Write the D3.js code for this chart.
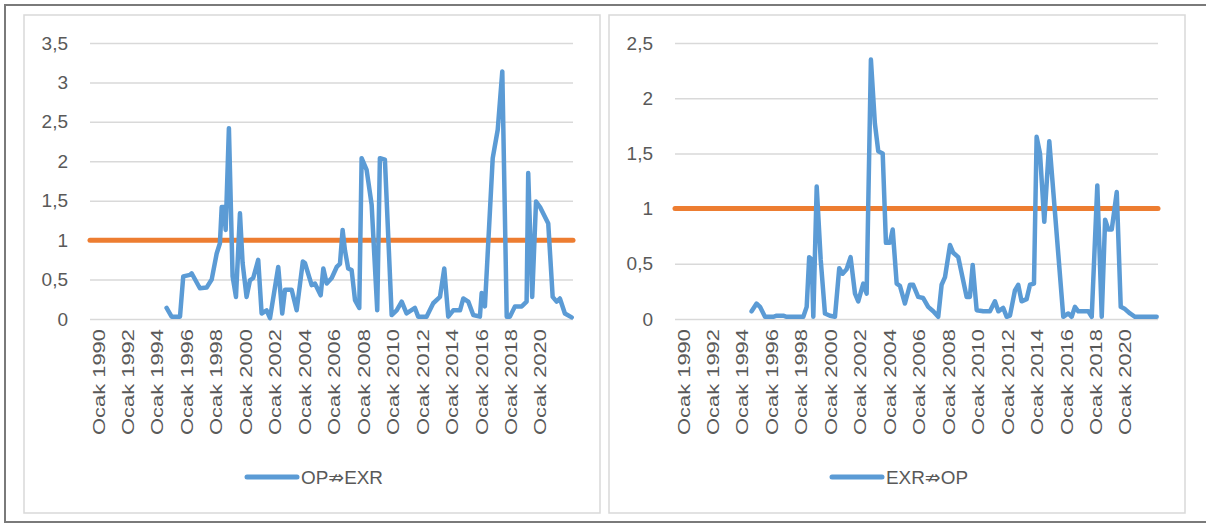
<!DOCTYPE html>
<html>
<head>
<meta charset="utf-8">
<script src="https://cdn.jsdelivr.net/npm/d3@7"></script>
<style>
  body { margin: 0; background: #fff; }
  svg { display: block; font-family: "Open Sans", "DejaVu Sans", sans-serif; }
</style>
</head>
<body>
<svg id="chart" width="1206" height="525"></svg>
<script>
// Axis labels
const tickYears = [1990, 1992, 1994, 1996, 1998, 2000, 2002, 2004, 2006, 2008, 2010, 2012, 2014, 2016, 2018, 2020];
const leftYTicks = [0, 0.5, 1, 1.5, 2, 2.5, 3, 3.5];
const rightYTicks = [0, 0.5, 1, 1.5, 2, 2.5];
const threshold = 1;

// OP⇏EXR (decimal years)
const opExrDates = [1994.66, 1995.00, 1995.57, 1995.79, 1996.25, 1996.36, 1996.92, 1997.38, 1997.72, 1998.06,
  1998.28, 1998.40, 1998.55, 1998.67, 1998.89, 1999.14, 1999.37, 1999.64, 1999.82, 2000.09,
  2000.32, 2000.54, 2000.88, 2001.11, 2001.45, 2001.68, 2002.24, 2002.51, 2002.70, 2003.15,
  2003.49, 2003.91, 2004.05, 2004.51, 2004.73, 2005.12, 2005.30, 2005.53, 2005.87, 2006.21,
  2006.43, 2006.61, 2006.77, 2006.99, 2007.22, 2007.45, 2007.74, 2007.90, 2008.24, 2008.58,
  2008.96, 2009.14, 2009.48, 2009.94, 2010.28, 2010.62, 2010.95, 2011.52, 2011.74, 2012.31,
  2012.76, 2013.22, 2013.51, 2013.78, 2014.12, 2014.58, 2014.80, 2015.14, 2015.48, 2015.93,
  2016.05, 2016.27, 2016.80, 2017.14, 2017.45, 2017.75, 2017.97, 2018.31, 2018.77, 2019.10,
  2019.21, 2019.48, 2019.74, 2020.01, 2020.57, 2020.87, 2021.14, 2021.36, 2021.70, 2022.16];
const opExrValues = [0.14, 0.03, 0.03, 0.54, 0.56, 0.58, 0.39, 0.40, 0.50, 0.83,
  0.96, 1.42, 1.42, 1.13, 2.42, 0.54, 0.28, 1.34, 0.71, 0.28,
  0.49, 0.52, 0.75, 0.07, 0.11, 0.01, 0.66, 0.07, 0.37, 0.37,
  0.11, 0.73, 0.71, 0.43, 0.45, 0.30, 0.64, 0.45, 0.52, 0.66,
  0.70, 1.13, 0.87, 0.64, 0.62, 0.24, 0.14, 2.04, 1.89, 1.45,
  0.11, 2.04, 2.02, 0.05, 0.11, 0.22, 0.07, 0.14, 0.03, 0.03,
  0.20, 0.28, 0.64, 0.03, 0.11, 0.11, 0.26, 0.22, 0.05, 0.03,
  0.33, 0.16, 2.04, 2.40, 3.14, 0.03, 0.03, 0.16, 0.16, 0.22,
  1.85, 0.28, 1.49, 1.42, 1.21, 0.28, 0.22, 0.26, 0.07, 0.02];

// EXR⇏OP
const exrOpDates = [1994.66, 1995.00, 1995.23, 1995.57, 1996.13, 1996.36, 1996.81, 1997.04, 1998.17, 1998.40,
  1998.57, 1998.74, 1998.85, 1999.08, 1999.35, 1999.64, 1999.98, 2000.32, 2000.61, 2000.84,
  2001.11, 2001.38, 2001.68, 2001.90, 2002.24, 2002.47, 2002.76, 2003.03, 2003.26, 2003.56,
  2003.78, 2004.05, 2004.24, 2004.51, 2004.73, 2005.07, 2005.41, 2005.63, 2005.97, 2006.31,
  2006.65, 2006.99, 2007.33, 2007.56, 2007.79, 2008.13, 2008.35, 2008.69, 2009.26, 2009.48,
  2009.67, 2009.94, 2010.39, 2010.84, 2011.18, 2011.41, 2011.74, 2011.98, 2012.20, 2012.54,
  2012.76, 2012.99, 2013.33, 2013.56, 2013.83, 2014.01, 2014.24, 2014.53, 2014.87, 2015.82,
  2016.16, 2016.39, 2016.61, 2016.84, 2017.52, 2017.75, 2018.13, 2018.43, 2018.66, 2018.88,
  2019.11, 2019.45, 2019.72, 2020.01, 2020.35, 2020.69, 2022.16];
const exrOpValues = [0.07, 0.14, 0.11, 0.02, 0.02, 0.03, 0.03, 0.02, 0.02, 0.11,
  0.56, 0.54, 0.02, 1.20, 0.54, 0.05, 0.03, 0.02, 0.46, 0.41,
  0.45, 0.56, 0.23, 0.16, 0.32, 0.23, 2.35, 1.77, 1.52, 1.50,
  0.69, 0.69, 0.81, 0.32, 0.30, 0.14, 0.31, 0.31, 0.20, 0.19,
  0.11, 0.07, 0.02, 0.31, 0.38, 0.67, 0.60, 0.56, 0.20, 0.20,
  0.49, 0.08, 0.07, 0.07, 0.16, 0.07, 0.10, 0.02, 0.03, 0.26,
  0.31, 0.16, 0.18, 0.31, 0.32, 1.65, 1.50, 0.88, 1.61, 0.02,
  0.05, 0.02, 0.11, 0.07, 0.07, 0.02, 1.21, 0.02, 0.90, 0.81,
  0.81, 1.15, 0.11, 0.09, 0.05, 0.02, 0.02];

// Styling
const lineBlue = "#5B9BD5";
const lineOrange = "#ED7D31";
const gridColor = "#d9d9d9";
const textColor = "#595959";

const trFormat = d3.formatLocale({ decimal: ",", thousands: ".", grouping: [3], currency: ["", ""] }).format("~g");

const svg = d3.select("#chart");

// outer frame
svg.append("rect")
  .attr("x", 5).attr("y", 5)
  .attr("width", 1210).attr("height", 517)
  .attr("fill", "#fff")
  .attr("stroke", "#7a7a7a")
  .attr("stroke-width", 2);

function drawPanel(offsetX, yTicks, dates, values, legendLabel) {
  const g = svg.append("g").attr("transform", `translate(${offsetX},0)`);

  // panel border
  g.append("rect")
    .attr("x", 24).attr("y", 15)
    .attr("width", 576).attr("height", 498)
    .attr("fill", "#fff")
    .attr("stroke", gridColor)
    .attr("stroke-width", 1.5);

  const x = d3.scaleLinear().domain([1989.46, 2022.25]).range([90, 573]);
  const y = d3.scaleLinear().domain([0, d3.max(yTicks)]).range([319, 43]);

  // y axis with gridlines
  const yAxis = g.append("g")
    .attr("transform", `translate(${x.range()[0]},0)`)
    .call(d3.axisLeft(y).tickValues(yTicks).tickFormat(trFormat)
      .tickSize(-(x.range()[1] - x.range()[0])).tickPadding(22));
  yAxis.select(".domain").remove();
  yAxis.selectAll("line").attr("stroke", gridColor).attr("stroke-width", 1.5);
  yAxis.selectAll("text")
    .attr("fill", textColor)
    .style("font-size", "19px");

  // x axis, rotated labels
  const xAxis = g.append("g")
    .attr("transform", `translate(0,${y(0)})`)
    .call(d3.axisBottom(x).tickValues(tickYears).tickSize(0));
  xAxis.select(".domain").remove();
  xAxis.selectAll("text")
    .text(d => "Ocak " + d)
    .attr("transform", "rotate(-90)")
    .attr("x", -10)
    .attr("y", 0)
    .attr("dy", "0.36em")
    .attr("text-anchor", "end")
    .attr("fill", textColor)
    .attr("textLength", 106)
    .attr("lengthAdjust", "spacingAndGlyphs")
    .style("font-size", "17px");

  // threshold line
  g.append("line")
    .attr("x1", x.range()[0]).attr("x2", x.range()[1])
    .attr("y1", y(threshold)).attr("y2", y(threshold))
    .attr("stroke", lineOrange)
    .attr("stroke-width", 5)
    .attr("stroke-linecap", "round");

  // series line
  const line = d3.line()
    .x((d, i) => x(dates[i]))
    .y(d => y(d));
  g.append("path")
    .datum(values)
    .attr("d", line)
    .attr("fill", "none")
    .attr("stroke", lineBlue)
    .attr("stroke-width", 4.5)
    .attr("stroke-linejoin", "round")
    .attr("stroke-linecap", "round");

  // legend
  g.append("line")
    .attr("x1", 247).attr("x2", 297)
    .attr("y1", 477).attr("y2", 477)
    .attr("stroke", lineBlue)
    .attr("stroke-width", 5)
    .attr("stroke-linecap", "round");
  g.append("text")
    .attr("x", 301).attr("y", 477)
    .attr("dy", "0.35em")
    .attr("fill", textColor)
    .attr("textLength", 82)
    .attr("lengthAdjust", "spacingAndGlyphs")
    .style("font-size", "19px")
    .style("font-family", "'Liberation Sans', 'DejaVu Sans', sans-serif")
    .text(legendLabel);
}

drawPanel(0, leftYTicks, opExrDates, opExrValues, "OP⇏EXR");
drawPanel(585, rightYTicks, exrOpDates, exrOpValues, "EXR⇏OP");
</script>
</body>
</html>
